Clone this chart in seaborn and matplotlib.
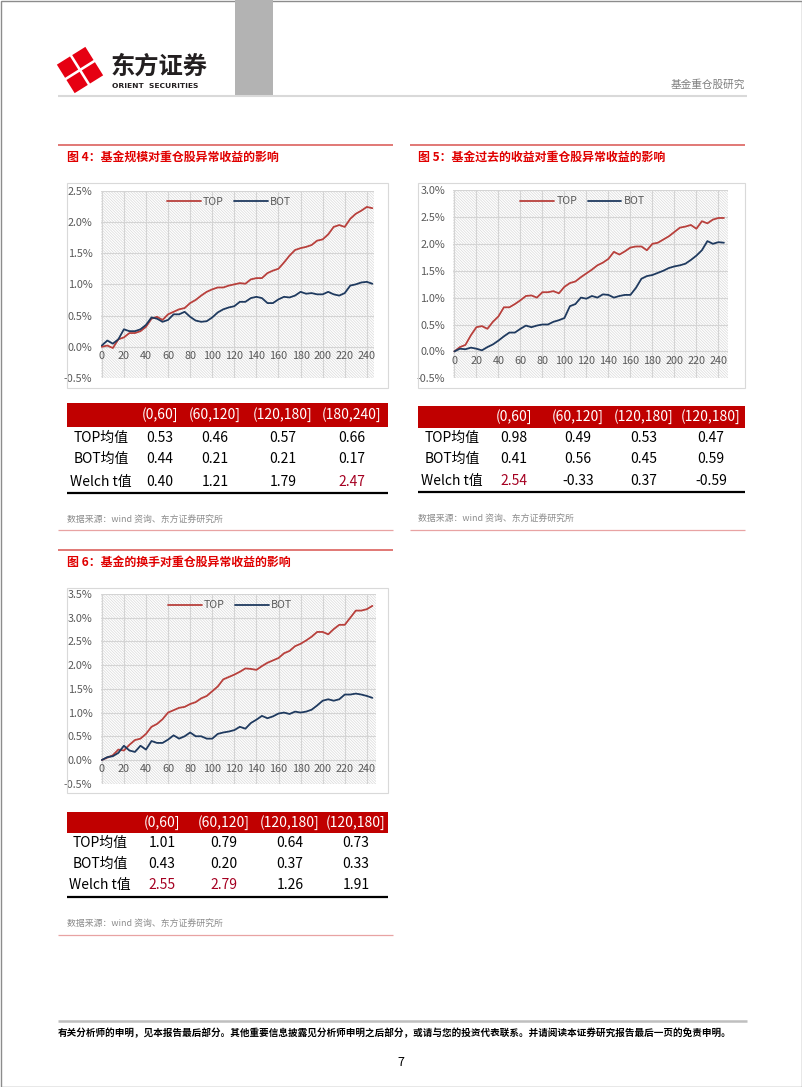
import matplotlib
matplotlib.use('Agg')
import matplotlib.pyplot as plt
import seaborn as sns
import numpy as np
from matplotlib.patches import Rectangle, Polygon
from matplotlib.lines import Line2D
from matplotlib.ticker import FuncFormatter, MultipleLocator

# ---------------- data ----------------
DAYS = list(range(0, 250, 5))

FIG4_TOP = [0.00, 0.02, -0.02, 0.12, 0.15, 0.22, 0.22, 0.25, 0.32, 0.45,
            0.48, 0.43, 0.52, 0.56, 0.60, 0.62, 0.70, 0.75, 0.82, 0.88,
            0.92, 0.95, 0.95, 0.98, 1.00, 1.02, 1.01, 1.08, 1.10, 1.10,
            1.18, 1.22, 1.25, 1.35, 1.46, 1.55, 1.58, 1.60, 1.63, 1.70,
            1.72, 1.80, 1.92, 1.95, 1.92, 2.05, 2.13, 2.18, 2.24, 2.22]
FIG4_BOT = [0.02, 0.10, 0.05, 0.12, 0.28, 0.25, 0.25, 0.28, 0.35, 0.47,
            0.45, 0.40, 0.43, 0.52, 0.52, 0.56, 0.48, 0.42, 0.40, 0.41,
            0.47, 0.55, 0.60, 0.63, 0.65, 0.72, 0.72, 0.78, 0.80, 0.78,
            0.70, 0.70, 0.76, 0.80, 0.79, 0.82, 0.88, 0.85, 0.86, 0.84,
            0.84, 0.88, 0.84, 0.82, 0.86, 0.98, 1.00, 1.03, 1.04, 1.01]

FIG5_TOP = [0.00, 0.08, 0.12, 0.30, 0.45, 0.47, 0.42, 0.55, 0.65, 0.82,
            0.82, 0.88, 0.95, 1.03, 1.04, 1.00, 1.10, 1.10, 1.12, 1.08,
            1.20, 1.27, 1.30, 1.38, 1.45, 1.52, 1.60, 1.65, 1.72, 1.85,
            1.80, 1.86, 1.93, 1.95, 1.95, 1.88, 2.00, 2.02, 2.08, 2.14,
            2.22, 2.30, 2.32, 2.35, 2.28, 2.42, 2.38, 2.45, 2.48, 2.48]
FIG5_BOT = [0.00, 0.05, 0.04, 0.07, 0.05, 0.02, 0.08, 0.13, 0.20, 0.28,
            0.35, 0.35, 0.42, 0.48, 0.45, 0.48, 0.50, 0.50, 0.55, 0.58,
            0.62, 0.84, 0.88, 1.00, 0.98, 1.03, 1.00, 1.06, 1.05, 1.00,
            1.03, 1.05, 1.05, 1.18, 1.35, 1.40, 1.42, 1.46, 1.50, 1.55,
            1.58, 1.60, 1.63, 1.70, 1.78, 1.88, 2.05, 2.00, 2.03, 2.02]

FIG6_TOP = [0.00, 0.05, 0.10, 0.22, 0.20, 0.32, 0.42, 0.45, 0.55, 0.70,
            0.76, 0.86, 1.00, 1.05, 1.10, 1.12, 1.18, 1.22, 1.30, 1.35,
            1.45, 1.55, 1.70, 1.75, 1.80, 1.86, 1.93, 1.92, 1.90, 1.98,
            2.05, 2.10, 2.15, 2.25, 2.30, 2.40, 2.45, 2.52, 2.60, 2.70,
            2.70, 2.65, 2.76, 2.85, 2.85, 3.00, 3.15, 3.15, 3.18, 3.25]
FIG6_BOT = [0.00, 0.06, 0.08, 0.15, 0.30, 0.20, 0.17, 0.30, 0.22, 0.40,
            0.36, 0.36, 0.43, 0.52, 0.45, 0.50, 0.58, 0.50, 0.50, 0.45,
            0.45, 0.55, 0.58, 0.60, 0.63, 0.70, 0.66, 0.78, 0.85, 0.93,
            0.88, 0.92, 0.98, 1.00, 0.97, 1.02, 1.00, 1.02, 1.06, 1.15,
            1.25, 1.28, 1.25, 1.28, 1.38, 1.38, 1.40, 1.38, 1.35, 1.31]

ROW_LABELS = ['TOP均值', 'BOT均值', 'Welch t值']
TAB4_COLS = ['(0,60]', '(60,120]', '(120,180]', '(180,240]']
TAB4_TOP = ['0.53', '0.46', '0.57', '0.66']
TAB4_BOT = ['0.44', '0.21', '0.21', '0.17']
TAB4_T = ['0.40', '1.21', '1.79', '2.47']
TAB5_COLS = ['(0,60]', '(60,120]', '(120,180]', '(120,180]']
TAB5_TOP = ['0.98', '0.49', '0.53', '0.47']
TAB5_BOT = ['0.41', '0.56', '0.45', '0.59']
TAB5_T = ['2.54', '-0.33', '0.37', '-0.59']
TAB6_COLS = ['(0,60]', '(60,120]', '(120,180]', '(120,180]']
TAB6_TOP = ['1.01', '0.79', '0.64', '0.73']
TAB6_BOT = ['0.43', '0.20', '0.37', '0.33']
TAB6_T = ['2.55', '2.79', '1.26', '1.91']

TITLE4 = '图 4：基金规模对重仓股异常收益的影响'
TITLE5 = '图 5：基金过去的收益对重仓股异常收益的影响'
TITLE6 = '图 6：基金的换手对重仓股异常收益的影响'
SOURCE = '数据来源：wind 资询、东方证券研究所'
HEADER_RIGHT = '基金重仓股研究'
DISCLAIMER = ('有关分析师的申明，见本报告最后部分。其他重要信息披露见分析师申明之后部分，'
              '或请与您的投资代表联系。并请阅读本证券研究报告最后一页的免责申明。')

# ---------------- style ----------------
W, H = 802, 1087
sns.set_style('white')
plt.rcParams['font.family'] = ['Noto Sans CJK SC', 'DejaVu Sans']
plt.rcParams['hatch.linewidth'] = 0.45

RED_LINE = '#B8403C'
NAVY = '#1F3A5F'
TICK_GRAY = '#595959'
GRID = '#d4d4d4'
BAND_RED = '#C00000'

fig = plt.figure(figsize=(W / 100, H / 100), dpi=100)


def fx(x):
    return x / W


def fy(y):
    return 1 - y / H


def rect(x0, y0, x1, y1):
    return [x0 / W, 1 - y1 / H, (x1 - x0) / W, (y1 - y0) / H]


def hline(y, x0, x1, color, lw):
    fig.add_artist(Line2D([fx(x0), fx(x1)], [fy(y), fy(y)], color=color, lw=lw,
                          transform=fig.transFigure, solid_capstyle='butt'))


def box(x0, y0, x1, y1, **kw):
    fig.add_artist(Rectangle((fx(x0), fy(y1)), (x1 - x0) / W, (y1 - y0) / H,
                             transform=fig.transFigure, **kw))


def text(x, y, s, **kw):
    fig.text(fx(x), fy(y), s, **kw)


# ---------------- page chrome ----------------
box(0.5, 0.5, 801.5, 1086.5, fill=False, edgecolor='#8c8c8c', lw=1.0)
box(235, 0, 273, 96, facecolor='#b3b3b3', lw=0)
hline(95.5, 58, 747, '#d9d9d9', 1.5)

# logo: four tilted red tiles
th = np.deg2rad(32)
u = np.array([np.cos(th), -np.sin(th)])
v = np.array([np.sin(th), np.cos(th)])
c0 = np.array([80.0, 70.0])
s, g = 15.5, 2.6
for a in (-1, 1):
    for b in (-1, 1):
        c = c0 + a * (s + g) / 2 * u + b * (s + g) / 2 * v
        pts = [c + p * s / 2 * u + q * s / 2 * v for p, q in ((-1, -1), (1, -1), (1, 1), (-1, 1))]
        fig.add_artist(Polygon([(fx(p[0]), fy(p[1])) for p in pts], closed=True,
                               transform=fig.transFigure, facecolor='#E60012', lw=0,
                               joinstyle='round'))

text(111, 67, '东方证券', fontsize=17.5, fontweight='heavy', color='#231f20', va='center', ha='left')
text(112, 86.5, 'ORIENT  SECURITIES', fontsize=5.4, fontweight='bold', color='#231f20',
     va='center', ha='left', family='DejaVu Sans')
text(745, 85, HEADER_RIGHT, fontsize=7.7, color='#7f7f7f', va='center', ha='right')

# footer
hline(1020.7, 58, 747, '#bfbfbf', 1.8)
text(58, 1033, DISCLAIMER, fontsize=6.9, fontweight='bold', color='black', va='center', ha='left')
text(401, 1063, '7', fontsize=9, color='black', va='center', ha='center')


# ---------------- charts ----------------
def draw_chart(frame, axrect, ymax, top, bot, xmax):
    bx0, by0, bx1, by1 = frame
    box(bx0, by0, bx1, by1, fill=False, edgecolor='#d9d9d9', lw=0.8)
    ax = fig.add_axes(rect(*axrect))
    ax.add_patch(Rectangle((0, 0), 1, 1, transform=ax.transAxes, facecolor='white',
                           edgecolor='#d6d6d6', hatch='\\' * 12, lw=0, zorder=0))
    sns.lineplot(x=DAYS, y=top, ax=ax, color=RED_LINE, lw=1.3, label='TOP', zorder=3)
    sns.lineplot(x=DAYS, y=bot, ax=ax, color=NAVY, lw=1.3, label='BOT', zorder=3)
    ax.set_xlim(-1, xmax)
    ax.set_ylim(-0.5, ymax)
    ax.yaxis.set_major_locator(MultipleLocator(0.5))
    ax.yaxis.set_major_formatter(FuncFormatter(lambda val, _: f'{val:.1f}%'))
    ax.set_xticks(range(0, 241, 20))
    ax.grid(True, color=GRID, lw=0.8, zorder=1)
    ax.set_axisbelow(True)
    for sp in ax.spines.values():
        sp.set_visible(False)
    ax.spines['bottom'].set_position(('data', 0))
    ax.tick_params(axis='both', length=0, labelsize=7.8, labelcolor=TICK_GRAY)
    ax.tick_params(axis='x', pad=3)
    ax.tick_params(axis='y', pad=6)
    ax.set_xlabel('')
    ax.set_ylabel('')
    leg = ax.legend(loc='upper center', bbox_to_anchor=(0.47, 1.0), ncol=2, frameon=False,
                    fontsize=7.6, handlelength=3.2, columnspacing=1.0, handletextpad=0.2,
                    borderaxespad=0.2)
    for t in leg.get_texts():
        t.set_color(TICK_GRAY)
    return ax


def draw_section(x0, x1, line_y, title, title_x):
    hline(line_y, x0, x1, '#d9534f', 1.1)
    text(title_x, line_y + 12, title, fontsize=8.6, fontweight='heavy', color='#E00000',
         va='center', ha='left')


def draw_table(bx0, bx1, band_y0, band_y1, col_xs, cols, label_x, row_ys, rows,
               bottom_y, src_y, red_y, red_x0, red_x1):
    box(bx0, band_y0, bx1, band_y1, facecolor=BAND_RED, lw=0)
    for cx, c in zip(col_xs, cols):
        text(cx, (band_y0 + band_y1) / 2, c, fontsize=10, color='white', va='center', ha='center')
    for ry, lab, vals in zip(row_ys, ROW_LABELS, rows):
        text(label_x, ry, lab, fontsize=10, color='black', va='center', ha='center')
        for cx, val in zip(col_xs, vals):
            col = '#A50021' if (lab.startswith('Welch') and float(val) > 1.96) else 'black'
            text(cx, ry, val, fontsize=10, color=col, va='center', ha='center')
    hline(bottom_y, bx0, bx1, 'black', 1.6)
    text(bx0, src_y, SOURCE, fontsize=6.4, color='#8c8c8c', va='center', ha='left')
    hline(red_y, red_x0, red_x1, '#e8a3a3', 0.9)


# Figure 4
draw_section(58, 393, 145, TITLE4, 67)
draw_chart((67, 183, 388, 388), (100.7, 190.7, 374, 378), 2.5, FIG4_TOP, FIG4_BOT, 246.5)
draw_table(66.7, 388.3, 403.3, 426.7, [160, 215, 283, 352], TAB4_COLS, 101,
           [437.7, 459.3, 481.7], [TAB4_TOP, TAB4_BOT, TAB4_T], 493.3, 520, 530, 58, 393)

# Figure 5
draw_section(410, 745, 145, TITLE5, 418)
draw_chart((418, 183, 745, 388), (453.3, 190, 728.3, 378.3), 3.0, FIG5_TOP, FIG5_BOT, 249)
draw_table(418.3, 745, 405.7, 428.3, [514, 578, 644, 711], TAB5_COLS, 452,
           [438.3, 459, 481], [TAB5_TOP, TAB5_BOT, TAB5_T], 491.7, 519, 530, 410, 745)

# Figure 6
draw_section(58, 393, 550, TITLE6, 67)
draw_chart((67, 588, 388, 793), (100.7, 594, 375.7, 783.7), 3.5, FIG6_TOP, FIG6_BOT, 248)
draw_table(66.7, 388.3, 811.7, 833.3, [162, 224, 290, 356], TAB6_COLS, 100,
           [843.3, 864, 885], [TAB6_TOP, TAB6_BOT, TAB6_T], 896.7, 924, 935, 58, 393)

fig.savefig('out.png', dpi=100)
